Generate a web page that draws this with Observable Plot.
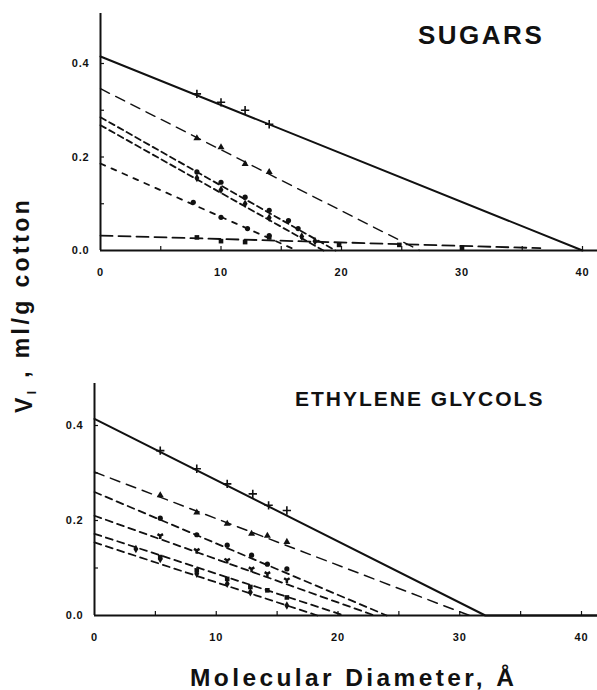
<!DOCTYPE html>
<html>
<head>
<meta charset="utf-8">
<script src="https://cdn.jsdelivr.net/npm/d3@7"></script>
<script src="https://cdn.jsdelivr.net/npm/@observablehq/plot@0.6"></script>
<style>
  html, body { margin: 0; padding: 0; background: #fff; }
  #root { position: relative; width: 597px; height: 690px; overflow: hidden; }
  #root > svg, #root > div { position: absolute; }
  svg text { font-family: "Liberation Sans", Arial, sans-serif; font-weight: bold; }
  .panel svg text { font-size: 11px; letter-spacing: 0.8px; fill: #111; }
</style>
</head>
<body>
<div id="root"></div>
<script>
// ---------- data ----------
const xTicks = [0, 10, 20, 30, 40];
const xMinorTicks = [5, 10, 15, 20, 25, 30, 35, 40];
const yTicks = [0, 0.2, 0.4];
const yMinorTicks = [0.1, 0.2, 0.3, 0.4];

const titleTop = "SUGARS";
const titleBottom = "ETHYLENE GLYCOLS";
const xLabel = "Molecular Diameter, Å";
const yLabelMain = "V";
const yLabelSub = "I";
const yLabelRest = " , ml/g cotton";

// Sugars panel: fitted lines (vertices) and measured points
const sugarSeries = ["s1", "s2", "s3", "s4", "s5", "s6"];
const sugarLineX = [[0, 40.0], [0, 26.5], [0, 19.5], [0, 18.5], [0, 16.3], [0, 36.5]];
const sugarLineY = [[0.415, 0], [0.346, 0], [0.285, 0], [0.268, 0], [0.186, 0], [0.032, 0.005]];
const sugarPointX = [
  [8, 10, 12, 14],
  [8, 10, 12, 14],
  [8, 10, 12, 14, 15.6, 16.4],
  [8, 10, 12, 14, 16.7, 17.8],
  [7.7, 10, 12.2, 14],
  [8, 10, 12, 14, 19.8, 24.8, 30]
];
const sugarPointY = [
  [0.335, 0.317, 0.3, 0.27],
  [0.24, 0.221, 0.185, 0.168],
  [0.168, 0.146, 0.114, 0.086, 0.064, 0.047],
  [0.155, 0.13, 0.1, 0.07, 0.03, 0.02],
  [0.103, 0.071, 0.047, 0.032],
  [0.028, 0.02, 0.018, 0.028, 0.012, 0.012, 0.006]
];

// Ethylene glycols panel
const glycolSeries = ["e1", "e2", "e3", "e4", "e5", "e6"];
const glycolLineX = [[0, 32.1, 41.3], [0, 30.8], [0, 24], [0, 23], [0, 20.5], [0, 18.3]];
const glycolLineY = [[0.414, 0, 0], [0.302, 0], [0.26, 0], [0.21, 0], [0.172, 0], [0.154, 0]];
const glycolPointX = [
  [5.4, 8.4, 10.9, 13.0, 14.3, 15.8],
  [5.4, 8.4, 10.9, 12.9, 14.2, 15.8],
  [5.4, 8.4, 10.9, 12.9, 14.2, 15.8],
  [5.4, 8.4, 10.9, 12.9, 14.2, 15.8],
  [5.4, 8.4, 10.9, 12.8, 14.2, 15.8],
  [3.4, 5.4, 8.4, 10.9, 12.8, 15.8]
];
const glycolPointY = [
  [0.347, 0.309, 0.277, 0.256, 0.232, 0.221],
  [0.253, 0.217, 0.193, 0.172, 0.168, 0.155],
  [0.205, 0.17, 0.148, 0.127, 0.108, 0.098],
  [0.168, 0.137, 0.116, 0.098, 0.088, 0.075],
  [0.123, 0.095, 0.077, 0.06, 0.053, 0.038],
  [0.14, 0.119, 0.088, 0.067, 0.049, 0.021]
];

// ---------- styles ----------
const ink = "#111";
const sugarStyle = [
  {w: 2, dash: null, symbol: "plus"},
  {w: 1.4, dash: "10,7", symbol: "triangle"},
  {w: 1.8, dash: "6,4", symbol: "circle"},
  {w: 1.8, dash: "6,4", symbol: "diamond"},
  {w: 1.8, dash: "5,7", symbol: "circle"},
  {w: 1.8, dash: "12,6", symbol: "square"}
];
const glycolStyle = [
  {w: 2, dash: null, symbol: "plus"},
  {w: 1.5, dash: "10,7", symbol: "triangle"},
  {w: 1.8, dash: "7,5", symbol: "circle"},
  {w: 1.8, dash: "7,5", symbol: "wye"},
  {w: 1.8, dash: "7,5", symbol: "square"},
  {w: 1.8, dash: "7,5", symbol: "diamond"}
];
const strokeSymbols = new Set(["plus", "times", "triangle2", "asterisk", "square2", "diamond2"]);

function panel({lineX, lineY, ptX, ptY, styles, marginLeft, marginTop, height, xMax, yMax, pxPerX, pxPerY}) {
  const tickLenX = 4 / pxPerY;   // inward x ticks (in y data units)
  const tickLenY = 4 / pxPerX;   // inward y ticks (in x data units)
  const marks = [
    Plot.ruleY([0], {stroke: ink, strokeWidth: 2}),
    Plot.ruleX([0], {stroke: ink, strokeWidth: 2}),
    Plot.ruleX(xMinorTicks, {x: d => d, y1: 0, y2: tickLenX, stroke: ink, strokeWidth: 1.2}),
    Plot.ruleY(yMinorTicks, {y: d => d, x1: 0, x2: tickLenY, stroke: ink, strokeWidth: 1.2}),
    Plot.axisX({ticks: xTicks, tickSize: 0, tickPadding: 18, tickFormat: d => String(d), label: null}),
    Plot.axisY({ticks: yTicks, tickSize: 0, tickPadding: 11, tickFormat: d => d.toFixed(1), label: null})
  ];
  lineX.forEach((xs, i) => {
    const st = styles[i];
    const data = xs.map((x, j) => ({x, y: lineY[i][j]}));
    marks.push(Plot.line(data, {x: "x", y: "y", stroke: ink, strokeWidth: st.w,
      strokeDasharray: st.dash || undefined}));
    const pts = ptX[i].map((x, j) => ({x, y: ptY[i][j]}));
    if (strokeSymbols.has(st.symbol)) {
      marks.push(Plot.dot(pts, {x: "x", y: "y", symbol: st.symbol, r: 2.8, stroke: ink, strokeWidth: 1.6, fill: "none"}));
    } else {
      marks.push(Plot.dot(pts, {x: "x", y: "y", symbol: st.symbol, r: 2.6, fill: ink, stroke: "none"}));
    }
  });
  return Plot.plot({
    width: 597,
    height,
    marginLeft,
    marginRight: 0,
    marginTop,
    marginBottom: 40,
    x: {domain: [0, xMax], axis: null},
    y: {domain: [0, yMax], axis: null},
    marks
  });
}

const root = document.getElementById("root");

// top panel: x=0 at 100px, 12.05 px/unit; y=0 at 250px, 467.5 px/unit
const topChart = panel({
  lineX: sugarLineX, lineY: sugarLineY, ptX: sugarPointX, ptY: sugarPointY, styles: sugarStyle,
  marginLeft: 100, marginTop: 13, height: 290,
  xMax: (597 - 100) / 12.05, yMax: 237 / 467.5, pxPerX: 12.05, pxPerY: 467.5
});
const topWrap = document.createElement("div");
topWrap.className = "panel";
topWrap.style.left = "0px"; topWrap.style.top = "0px";
topWrap.appendChild(topChart);
root.appendChild(topWrap);

// bottom panel: x=0 at 94px, 12.175 px/unit; y=0 at 615px, 475 px/unit
const bottomChart = panel({
  lineX: glycolLineX, lineY: glycolLineY, ptX: glycolPointX, ptY: glycolPointY, styles: glycolStyle,
  marginLeft: 94, marginTop: 43, height: 315,
  xMax: (597 - 94) / 12.175, yMax: 232 / 475, pxPerX: 12.175, pxPerY: 475
});
const botWrap = document.createElement("div");
botWrap.className = "panel";
botWrap.style.left = "0px"; botWrap.style.top = "340px";
botWrap.appendChild(bottomChart);
root.appendChild(botWrap);

// overlay text
const ov = d3.select(root).append("svg")
  .attr("width", 597).attr("height", 690)
  .style("left", "0px").style("top", "0px").style("pointer-events", "none");

ov.append("text").attr("x", 418).attr("y", 44)
  .style("font-size", "26px").style("letter-spacing", "2.5px").attr("fill", ink)
  .text(titleTop);

ov.append("text").attr("x", 295).attr("y", 406)
  .style("font-size", "21px").style("letter-spacing", "2px").attr("fill", ink)
  .text(titleBottom);

ov.append("text").attr("x", 190).attr("y", 686)
  .style("font-size", "24.5px").style("letter-spacing", "3.4px").attr("fill", ink)
  .text(xLabel);

const yl = ov.append("text")
  .attr("transform", "translate(32,305) rotate(-90)")
  .attr("text-anchor", "middle")
  .style("font-size", "23px").style("letter-spacing", "3.4px").attr("fill", ink);
yl.append("tspan").text(yLabelMain);
yl.append("tspan").attr("dy", "0.3em").style("font-size", "12px").text(yLabelSub);
yl.append("tspan").attr("dy", "-0.3em").text(yLabelRest);
</script>
</body>
</html>
